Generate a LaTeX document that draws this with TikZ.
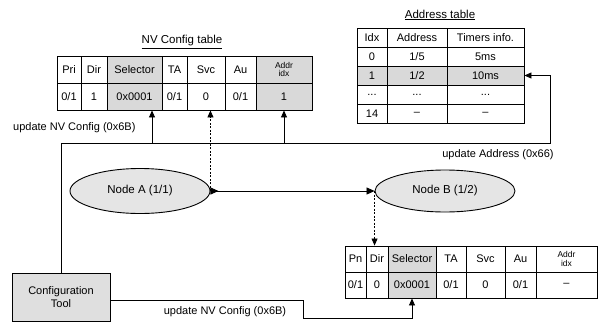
\documentclass[tikz,border=0pt]{standalone}
\usepackage{fontspec}
\setmainfont{Liberation Sans}
\usetikzlibrary{arrows.meta,shapes.geometric}
\newcommand\tcell[7]{%
\pgfmathsetmacro\cx{(#2+#4)/2}%
\pgfmathsetmacro\cy{(#3+#5)/2}%
\pgfmathsetmacro\cw{#4-#2}%
\pgfmathsetmacro\ch{#5-#3}%
\node[cell,#6,minimum width=\cw pt,minimum height=\ch pt] (#1) at (\cx,\cy) {#7};}
\begin{document}
\begin{tikzpicture}[x=1pt,y=-1pt,
  cell/.style={draw,line width=0.9pt,inner sep=0pt,align=center,font=\fontsize{11}{11}\selectfont},
  hl/.style={fill=gray!30},
  small/.style={font=\fontsize{8.5}{8.5}\selectfont},
  arr/.style={line width=0.8pt,-{Triangle[length=7pt,width=6pt]}},
  dsh/.style={dash pattern=on 2pt off 1.5pt},
  lbl/.style={font=\fontsize{11}{12}\selectfont,inner sep=0pt},
  ttl/.style={font=\fontsize{11.5}{12}\selectfont,inner sep=0pt},
  ell/.style={ellipse,draw,line width=0.9pt,fill=gray!20,inner sep=0pt,font=\fontsize{11.5}{12}\selectfont}]
\useasboundingbox (0,0) rectangle (601,321);
% NV Config table
\node[ttl] (nvtitle) at (182,42) {\underline{NV Config table}};
\tcell{nvpri0}{57}{56}{81}{83}{}{Pri}
\tcell{nvdir0}{81}{56}{107}{83}{}{Dir}
\tcell{nvsel0}{107}{56}{162}{83}{hl}{Selector}
\tcell{nvta0}{162}{56}{187}{83}{}{TA}
\tcell{nvsvc0}{187}{56}{225}{83}{}{Svc}
\tcell{nvau0}{225}{56}{256}{83}{}{Au}
\tcell{nvaddr0}{256}{56}{312}{83}{hl,small}{Addr\\idx}
\tcell{nvpri1}{57}{83}{81}{110}{}{0/1}
\tcell{nvdir1}{81}{83}{107}{110}{}{1}
\tcell{nvsel1}{107}{83}{162}{110}{hl}{0x0001}
\tcell{nvta1}{162}{83}{187}{110}{}{0/1}
\tcell{nvsvc1}{187}{83}{225}{110}{}{0}
\tcell{nvau1}{225}{83}{256}{110}{}{0/1}
\tcell{nvaddr1}{256}{83}{312}{110}{hl}{1}
% Address table
\node[ttl] (adtitle) at (440,15) {\underline{Address table}};
\tcell{ad0a}{357}{28}{387}{47}{}{Idx}
\tcell{ad0b}{387}{28}{447}{47}{}{Address}
\tcell{ad0c}{447}{28}{524}{47}{}{Timers info.}
\tcell{ad1a}{357}{47}{387}{66}{}{0}
\tcell{ad1b}{387}{47}{447}{66}{}{1/5}
\tcell{ad1c}{447}{47}{524}{66}{}{5ms}
\tcell{ad2a}{357}{66}{387}{85}{hl}{1}
\tcell{ad2b}{387}{66}{447}{85}{hl}{1/2}
\tcell{ad2c}{447}{66}{524}{85}{hl}{10ms}
\tcell{ad3a}{357}{85}{387}{104}{}{...}
\tcell{ad3b}{387}{85}{447}{104}{}{...}
\tcell{ad3c}{447}{85}{524}{104}{}{...}
\tcell{ad4a}{357}{104}{387}{123}{}{14}
\tcell{ad4b}{387}{104}{447}{123}{}{--}
\tcell{ad4c}{447}{104}{524}{123}{}{--}
% lower table
\tcell{lpri0}{345}{246}{366}{272}{}{Pn}
\tcell{ldir0}{366}{246}{388}{272}{}{Dir}
\tcell{lsel0}{388}{246}{436}{272}{hl}{Selector}
\tcell{lta0}{436}{246}{466}{272}{}{TA}
\tcell{lsvc0}{466}{246}{505}{272}{}{Svc}
\tcell{lau0}{505}{246}{536}{272}{}{Au}
\tcell{laddr0}{536}{246}{597}{272}{small}{Addr\\idx}
\tcell{lpri1}{345}{272}{366}{298}{}{0/1}
\tcell{ldir1}{366}{272}{388}{298}{}{0}
\tcell{lsel1}{388}{272}{436}{298}{hl}{0x0001}
\tcell{lta1}{436}{272}{466}{298}{}{0/1}
\tcell{lsvc1}{466}{272}{505}{298}{}{0}
\tcell{lau1}{505}{272}{536}{298}{}{0/1}
\tcell{laddr1}{536}{272}{597}{298}{}{--}
% nodes
\node[ell,minimum width=140pt,minimum height=45pt] (nodeA) at (140,191) {Node A (1/1)};
\node[ell,minimum width=140pt,minimum height=42pt] (nodeB) at (445,191) {Node B (1/2)};
\node[draw,line width=0.9pt,fill=gray!25,minimum width=98pt,minimum height=48pt,align=center,inner sep=0pt,font=\fontsize{11}{13}\selectfont] (cfg) at (61,297) {Configuration\\Tool};
% labels
\node[lbl,anchor=west] (lbl1) at (13,128) {update NV Config (0x6B)};
\node[lbl] (lbl2) at (498,155) {update Address (0x66)};
\node[lbl] (lbl3) at (225,312) {update NV Config (0x6B)};
% connectors
\coordinate (hR) at (550,143);
\coordinate (b1) at (152,143);
\coordinate (b2) at (284,143);
\draw[arr] (cfg.north) |- (hR) |- (ad2c.east);
\draw[arr] (b1) -- (b1 |- nvsel1.south);
\draw[arr] (b2) -- (b2 |- nvaddr1.south);
\draw[arr,dsh] (nodeA.east) -- (nodeA.east |- nvsvc1.south);
\draw[line width=0.8pt,{Triangle[reversed,length=8pt,width=7pt]}-{Triangle[length=8pt,width=7pt]}] (nodeA.east) -- (nodeB.west);
\draw[arr,dsh] (nodeB.west) -- (nodeB.west |- ldir0.north);
\coordinate (k1) at (303,300);
\coordinate (k2) at (303,318);
\draw[arr] (cfg.east |- k1) -- (k1) -- (k2) -| (lsel1.south);
\end{tikzpicture}
\end{document}
